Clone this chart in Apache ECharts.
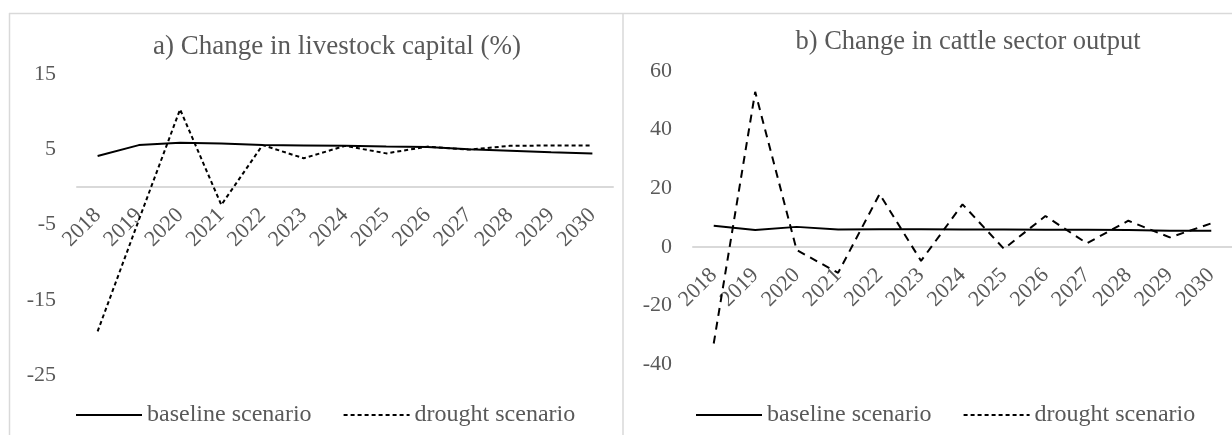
<!DOCTYPE html>
<html>
<head>
<meta charset="utf-8">
<script src="https://cdn.jsdelivr.net/npm/echarts@6/dist/echarts.min.js"></script>
<style>
  html, body { margin: 0; padding: 0; background: #fff; }
  #main { width: 1232px; height: 435px; }
</style>
</head>
<body>
<div id="main"></div>
<script>
// years on both x axes
var years = ['2018', '2019', '2020', '2021', '2022', '2023', '2024', '2025', '2026', '2027', '2028', '2029', '2030'];

// a) change in livestock capital (%)
var capitalBaseline = [4.1, 5.55, 5.85, 5.75, 5.55, 5.5, 5.45, 5.35, 5.3, 5.0, 4.8, 4.6, 4.45];
var capitalDrought = [-19.2, -4.4, 10.3, -2.4, 5.55, 3.8, 5.45, 4.45, 5.35, 4.95, 5.45, 5.5, 5.5];

// b) change in cattle sector output
var outputBaseline = [7.2, 5.7, 6.8, 5.9, 6.0, 6.0, 5.9, 5.9, 5.8, 5.8, 5.7, 5.5, 5.5];
var outputDrought = [-33.0, 52.9, -1.1, -8.9, 18.0, -4.8, 14.5, -0.7, 10.5, 1.2, 8.9, 3.2, 8.0];

var titles = ['a) Change in livestock capital (%)', 'b) Change in cattle sector output'];
var seriesNames = ['baseline scenario', 'drought scenario'];

var font = '"Liberation Serif", "Times New Roman", serif';
var grey = '#595959';
var border = '#d9d9d9';

var chart = echarts.init(document.getElementById('main'));

// the category axis sits on the zero line, labels with it
function xAxisFor(idx, offset) {
  return {
    type: 'category',
    gridIndex: idx,
    data: years,
    boundaryGap: true,
    position: 'bottom',
    offset: offset,
    axisLine: { onZero: false, lineStyle: { color: border, width: 2 } },
    axisTick: { show: false },
    axisLabel: { rotate: 45, margin: 25, color: grey, fontSize: 22, fontFamily: font, interval: 0 }
  };
}

function yAxisFor(idx, min, max, step) {
  return {
    type: 'value',
    gridIndex: idx,
    min: min,
    max: max,
    interval: step,
    axisLine: { show: false },
    axisTick: { show: false },
    splitLine: { show: false },
    axisLabel: { margin: 21, color: grey, fontSize: 22, fontFamily: font }
  };
}

function lineSeries(name, idx, data, dash) {
  return {
    name: name,
    type: 'line',
    xAxisIndex: idx,
    yAxisIndex: idx,
    data: data,
    symbol: 'none',
    smooth: false,
    lineStyle: { color: '#000', width: 2, type: dash || 'solid' },
    itemStyle: { color: '#000' }
  };
}

function legendFor(left) {
  return {
    data: seriesNames, left: left, top: 398, itemWidth: 66, itemHeight: 14, itemGap: 31,
    itemStyle: { color: 'rgba(0,0,0,0)', borderColor: 'rgba(0,0,0,0)', borderWidth: 0 },
    textStyle: { color: grey, fontSize: 24, fontFamily: font }
  };
}

var option = {
  animation: false,
  backgroundColor: '#fff',
  title: [
    {
      text: titles[0], left: 332, top: 28, textAlign: 'center',
      textStyle: { color: grey, fontSize: 27, fontWeight: 'normal', fontFamily: font }
    },
    {
      text: titles[1], left: 963, top: 24, textAlign: 'center',
      textStyle: { color: grey, fontSize: 26.5, fontWeight: 'normal', fontFamily: font }
    }
  ],
  legend: [legendFor(70), legendFor(690)],
  grid: [
    { left: 77, top: 74, width: 536, height: 301 },
    { left: 693, top: 71, width: 541, height: 293 }
  ],
  xAxis: [xAxisFor(0, -188), xAxisFor(1, -117)],
  yAxis: [yAxisFor(0, -25, 15, 10), yAxisFor(1, -40, 60, 20)],
  series: [
    lineSeries(seriesNames[0], 0, capitalBaseline),
    lineSeries(seriesNames[1], 0, capitalDrought, [4, 3]),
    lineSeries(seriesNames[0], 1, outputBaseline),
    lineSeries(seriesNames[1], 1, outputDrought, [8, 6])
  ],
  graphic: [
    { type: 'line', shape: { x1: 9, y1: 13.5, x2: 1232, y2: 13.5 }, style: { stroke: border, lineWidth: 1.5 } },
    { type: 'line', shape: { x1: 9.5, y1: 13, x2: 9.5, y2: 435 }, style: { stroke: border, lineWidth: 1.5 } },
    { type: 'line', shape: { x1: 623, y1: 13, x2: 623, y2: 435 }, style: { stroke: border, lineWidth: 1.5 } }
  ]
};

chart.setOption(option);
</script>
</body>
</html>
